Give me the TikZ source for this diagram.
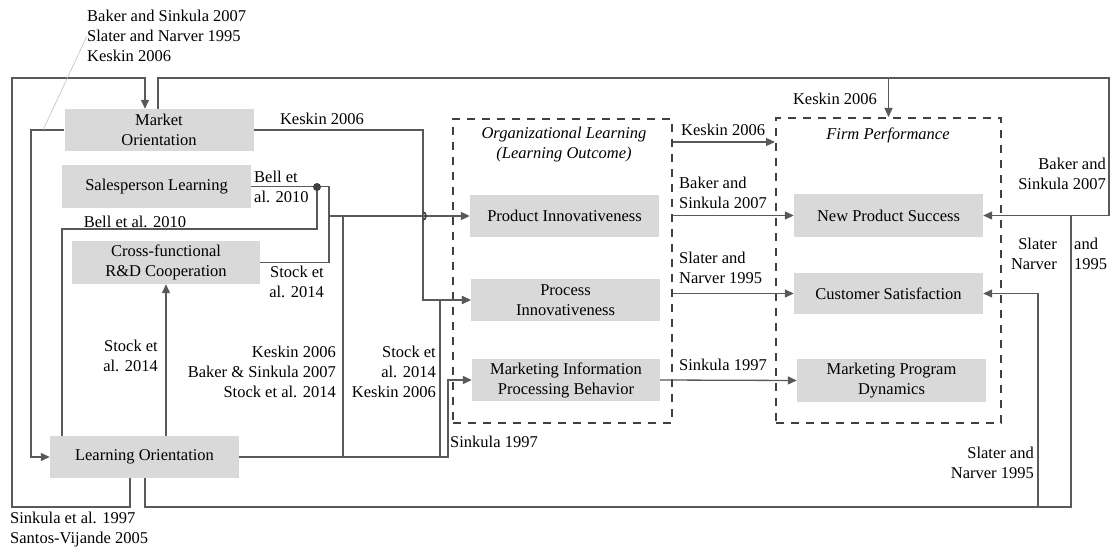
\documentclass[tikz,border=0pt]{standalone}
\usepackage{fontspec}
\setmainfont{Liberation Serif}
\usetikzlibrary{arrows.meta}
\definecolor{boxgray}{HTML}{D9D9D9}
\definecolor{linegray}{HTML}{595959}
\definecolor{dashgray}{HTML}{404040}
\definecolor{leadgray}{HTML}{C0C0C0}

\begin{document}
\begin{tikzpicture}[x=1pt,y=-1pt,
  box/.style={fill=boxgray, draw=none, minimum width=189pt, minimum height=42pt,
    align=center, inner sep=0pt, font=\fontsize{16.5}{20}\selectfont},
  group/.style={draw=dashgray, line width=2pt, dash pattern=on 8pt off 7pt, inner sep=0pt},
  conn/.style={draw=linegray, line width=1.3pt},
  arr/.style={conn, -{Triangle[length=9pt,width=8pt]}},
  lbl/.style={inner sep=0pt, font=\fontsize{16.5}{20}\selectfont, text=black},
  title/.style={lbl, font=\fontsize{16.5}{20}\selectfont\itshape, align=center},
]
\useasboundingbox (0,0) rectangle (1111,548);

% dashed groups
\node[group, minimum width=219pt, minimum height=304pt] (ol) at (562.5,271) {};
\node[group, minimum width=225pt, minimum height=305pt] (fp) at (888.5,270.5) {};
\node[title] (olt) at (564,145) {Organizational Learning\\(Learning Outcome)};
\node[title] (fpt) at (888,135) {Firm Performance};

% constructs
\node[box] (mo) at (159,130) {Market\\Orientation};
\node[box, minimum height=43pt] (sl) at (156.5,186.5) {Salesperson Learning};
\node[box, minimum width=188pt, minimum height=43pt] (cf) at (166,262.5) {Cross-functional\\R\&D Cooperation};
\node[box] (lo) at (144.5,457) {Learning Orientation};
\node[box] (pi) at (564.5,216) {Product Innovativeness};
\node[box] (pri) at (565.5,300) {Process\\Innovativeness};
\node[box, minimum width=188pt] (mipb) at (566,380) {Marketing Information\\Processing Behavior};
\node[box, minimum height=43pt] (nps) at (888.5,215.5) {New Product Success};
\node[box, minimum height=41pt] (cs) at (888.5,293.5) {Customer Satisfaction};
\node[box, minimum height=43pt] (mpd) at (891.5,380.5) {Marketing Program\\Dynamics};

% routing points
\coordinate (lb1) at (130,507);
\coordinate (tl) at (12,78);
\coordinate (mo1) at (145,78);
\coordinate (ml) at (31,457);
\coordinate (ld) at (43,130);
\coordinate (tr) at (1109,78);
\coordinate (mp) at (423,300);
\coordinate (sj) at (329,216);
\coordinate (dot) at (317,187);
\coordinate (lm) at (62,229);
\coordinate (lp) at (343,216);
\coordinate (lq) at (440,300);
\coordinate (lr) at (448,380);
\coordinate (lb2) at (145,507);
\coordinate (br) at (1071,507);
\coordinate (bc) at (1038,507);
\coordinate (k1) at (0,142);

% learning orientation -> market orientation (outer loop)
\draw[arr] (lo.south -| lb1) -- (lb1) -| (tl) -- (mo1) -- (mo1 |- mo.north);
% market orientation -> learning orientation
\draw[arr] (mo.west) -| (ml) -- (lo.west);
% market orientation -> firm performance / new product success
\draw[arr] (mo.north -| 158,0) |- (tr) |- (nps.east);
\draw[arr] (fp.north |- tr) -- (fp.north);
% market orientation -> process innovativeness
\draw[arr] (mo.east) -| (mp) -- (pri.west);
% salesperson learning and cross-functional cooperation -> product innovativeness
\draw[conn] (sl.east) -| (sj);
\draw[conn] (cf.east) -| (sj);
\draw[arr, line width=2pt] (sj) -- (pi.west);
\draw[draw=dashgray, line width=1.6pt] (423,212) arc[start angle=90, end angle=-90, x radius=3pt, y radius=4pt];
% learning orientation moderating salesperson learning
\draw[conn] (lo.north -| lm) -- (lm) -| (dot);
\fill[dashgray] (dot) circle (4pt);
% learning orientation -> cross-functional cooperation
\draw[arr] (lo.north -| cf.south) -- (cf.south);
% learning orientation -> learning outcomes
\draw[conn] (lo.east) -| (lp);
\draw[arr] (lo.east) -| (lq) -- (pri.west);
\draw[arr] (lo.east) -| (lr) -- (mipb.west);
% learning orientation -> firm performance outcomes
\draw[conn] (lo.south -| lb2) -- (lb2) -- (br) -- (br |- nps.east);
\draw[arr] (bc) |- (cs.east);
% learning outcomes -> firm performance
\draw[arr] (ol.east |- k1) -- (fp.west |- k1);
\draw[arr] (ol.east |- nps.west) -- (nps.west);
\draw[arr] (ol.east |- cs.west) -- (cs.west);
\draw[arr] (mipb.east) -- (mpd.west);

% citations
\node[lbl, align=left, anchor=west] (c1) at (87,36) {Baker and Sinkula 2007\\Slater and Narver 1995\\Keskin 2006};
\draw[leadgray, line width=0.6pt] (ld) -- (c1.west);
\node[lbl, align=left, anchor=west] (c2) at (10,529.5) {Sinkula et al. 1997\\Santos-Vijande 2005};
\node[lbl] (c3) at (322,119) {Keskin 2006};
\node[lbl, align=left, anchor=west] (c4) at (254,186.5) {Bell et\\al. 2010};
\node[lbl] (c5) at (135,222) {Bell et al. 2010};
\node[lbl, align=right, anchor=east] (c6) at (324,282) {Stock et\\al. 2014};
\node[lbl, align=right, anchor=east] (c7) at (158,355.5) {Stock et\\al. 2014};
\node[lbl, align=right, anchor=east] (c8) at (336,372) {Keskin 2006\\Baker \& Sinkula 2007\\Stock et al. 2014};
\node[lbl, align=right, anchor=east] (c9) at (436,372) {Stock et\\al. 2014\\Keskin 2006};
\node[lbl, anchor=west] (c10) at (450,442) {Sinkula 1997};
\node[lbl, anchor=west] (c11) at (681,130) {Keskin 2006};
\node[lbl, align=left, anchor=west] (c12) at (679,193) {Baker and\\Sinkula 2007};
\node[lbl, align=left, anchor=west] (c13) at (679,268) {Slater and\\Narver 1995};
\node[lbl, anchor=west] (c14) at (679,365) {Sinkula 1997};
\node[lbl] (c15) at (835,99) {Keskin 2006};
\node[lbl, align=right, anchor=east] (c16) at (1106,173.5) {Baker and\\Sinkula 2007};
\node[lbl, align=right, anchor=east] (c17) at (1057,254) {Slater\\Narver};
\node[lbl, align=left, anchor=west] (c18) at (1074,254) {and\\1995};
\node[lbl, align=right, anchor=east] (c19) at (1034,463) {Slater and\\Narver 1995};
\end{tikzpicture}
\end{document}
